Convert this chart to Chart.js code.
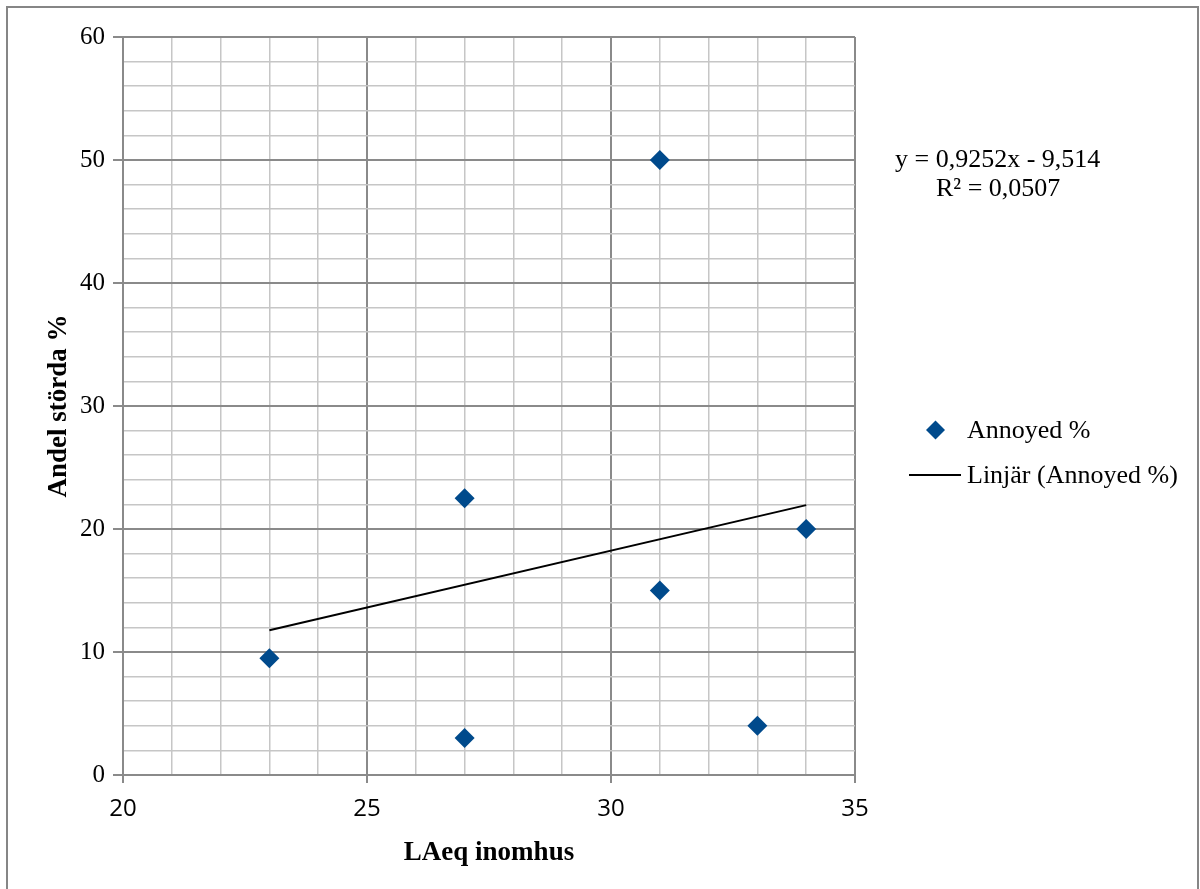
<!DOCTYPE html>
<html><head><meta charset="utf-8">
<script src="https://cdn.jsdelivr.net/npm/chart.js@4.4.1/dist/chart.umd.min.js"></script>
<style>html,body{margin:0;padding:0;background:#fff}#wrap{position:relative;width:1200px;height:889px}</style>
</head><body><div id="wrap"><canvas id="c" width="1200" height="889"></canvas></div>
<script>
const laeq = [23, 27, 27, 31, 31, 33, 34];
const annoyed = [9.5, 22.5, 3, 50, 15, 4, 20];
const trendSlope = 0.9252;
const trendIntercept = -9.514;
const seriesName = 'Annoyed %';
const trendName = 'Linjär (Annoyed %)';
const equationLines = ['y = 0,9252x - 9,514', 'R² = 0,0507'];
const xTitle = 'LAeq inomhus';
const yTitle = 'Andel störda %';

const pts = laeq.map((x, i) => ({x: x, y: annoyed[i]}));
const xMin = Math.min(...laeq), xMax = Math.max(...laeq);
const trend = [xMin, xMax].map(x => ({x: x, y: trendSlope * x + trendIntercept}));

const MAJOR = '#8a8a8a', MINOR = '#c6c6c6', BLUE = '#004a8c';

const extras = {
  id: 'extras',
  afterDraw(chart) {
    const ctx = chart.ctx;
    ctx.save();
    ctx.strokeStyle = '#868686';
    ctx.lineWidth = 2;
    ctx.strokeRect(7, 7, 1191, 900);
    ctx.fillStyle = '#000';
    ctx.font = '26px "Liberation Serif"';
    ctx.textBaseline = 'middle';
    ctx.textAlign = 'left';
    ctx.fillText(equationLines[0], 895, 160);
    ctx.fillText(equationLines[1], 936, 189);
    // legend
    ctx.fillStyle = BLUE;
    ctx.beginPath();
    ctx.moveTo(935.5, 420.5); ctx.lineTo(945, 430); ctx.lineTo(935.5, 439.5); ctx.lineTo(926, 430);
    ctx.closePath(); ctx.fill();
    ctx.fillStyle = '#000';
    ctx.fillText(seriesName, 967, 431);
    ctx.strokeStyle = '#000';
    ctx.lineWidth = 2;
    ctx.beginPath(); ctx.moveTo(909, 475); ctx.lineTo(961, 475); ctx.stroke();
    ctx.fillText(trendName, 967, 476);
    ctx.restore();
  }
};

const isMajor = (c, step) => c.tick && Math.abs(c.tick.value % step) < 1e-9;

new Chart(document.getElementById('c'), {
  type: 'scatter',
  data: {
    datasets: [
      {label: seriesName, data: pts, pointStyle: 'rectRot', pointRadius: 10, pointHoverRadius: 10,
       backgroundColor: BLUE, borderColor: BLUE, borderWidth: 0, order: 1},
      {label: trendName, type: 'line', data: trend, borderColor: '#000', borderWidth: 2,
       pointRadius: 0, fill: false, order: 2}
    ]
  },
  options: {
    responsive: false, animation: false, devicePixelRatio: 1,
    layout: {padding: {top: 37, right: 345, left: 0, bottom: 0}},
    plugins: {legend: {display: false}, tooltip: {enabled: false}},
    scales: {
      x: {
        type: 'linear', min: 20, max: 35,
        afterFit(s) { s.height = 114; },
        ticks: {stepSize: 1, autoSkip: false, maxRotation: 0, padding: 12,
          color: '#000', font: {family: '"Open Sans"', size: 24},
          callback: v => (v % 5 === 0 ? String(v) : '')},
        grid: {color: c => (isMajor(c, 5) ? MAJOR : MINOR), lineWidth: c => (isMajor(c, 5) ? 2 : 1.5),
          tickLength: 8, tickColor: c => (isMajor(c, 5) ? MAJOR : 'rgba(0,0,0,0)')},
        border: {color: MAJOR, width: 2},
        title: {display: true, text: xTitle, color: '#000', padding: {top: 20, bottom: 20},
          font: {family: '"Liberation Serif"', size: 27, weight: 'bold'}}
      },
      y: {
        min: 0, max: 60,
        afterFit(s) { s.width = 123; },
        ticks: {stepSize: 2, autoSkip: false, padding: 8, color: '#000',
          font: {family: '"Liberation Serif"', size: 25},
          callback: v => (v % 10 === 0 ? String(v) : '')},
        grid: {color: c => (isMajor(c, 10) ? MAJOR : MINOR), lineWidth: c => (isMajor(c, 10) ? 2 : 1.5),
          tickLength: 10, tickColor: c => (isMajor(c, 10) ? MAJOR : 'rgba(0,0,0,0)')},
        border: {color: MAJOR, width: 2},
        title: {display: true, text: yTitle, color: '#000', padding: {top: 43, bottom: 43},
          font: {family: '"Liberation Serif"', size: 27, weight: 'bold'}}
      }
    }
  },
  plugins: [extras]
});
</script></body></html>
